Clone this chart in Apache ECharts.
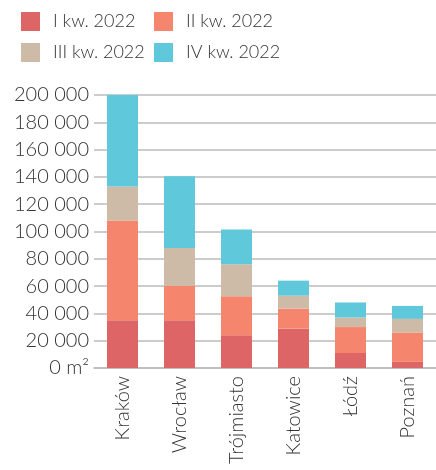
<!DOCTYPE html>
<html>
<head>
<meta charset="utf-8">
<script src="https://cdn.jsdelivr.net/npm/echarts@6/dist/echarts.min.js"></script>
<style>
html,body{margin:0;padding:0;background:#fff;}
#chart{width:436px;height:470px;}
</style>
</head>
<body>
<div id="chart"></div>
<script>
const categories = ['Kraków', 'Wrocław', 'Trójmiasto', 'Katowice', 'Łódź', 'Poznań'];
const seriesNames = ['I kw. 2022', 'II kw. 2022', 'III kw. 2022', 'IV kw. 2022'];
const q1 = [35000, 35000, 24000, 29000, 11000, 4500];
const q2 = [73000, 25000, 28500, 14500, 19000, 21500];
const q3 = [25000, 28000, 23500, 9500, 7000, 10000];
const q4 = [67000, 52500, 25500, 11000, 11000, 9500];
const yTickLabels = ['0 m²', '20 000', '40 000', '60 000', '80 000', '100 000', '120 000', '140 000', '160 000', '180 000', '200 000'];
const colors = ['#DD6566', '#F5856C', '#CEBBA7', '#5FC8DB'];

const FONT = 'Lato';
const TXT = '#333333';
const chart = echarts.init(document.getElementById('chart'), null, {renderer: 'canvas'});
const values = [q1, q2, q3, q4];
chart.setOption({
  animation: false,
  color: colors,
  legend: [
    {
      data: [seriesNames[0], seriesNames[2]],
      orient: 'vertical', left: 16, top: 7,
      itemWidth: 19, itemHeight: 19, itemGap: 12,
      icon: 'rect',
      textStyle: {fontFamily: FONT, fontWeight: 300, fontSize: 18, color: TXT, padding: [0, 0, 0, 8]}
    },
    {
      data: [seriesNames[1], seriesNames[3]],
      orient: 'vertical', left: 149, top: 7,
      itemWidth: 19, itemHeight: 19, itemGap: 12,
      icon: 'rect',
      textStyle: {fontFamily: FONT, fontWeight: 300, fontSize: 18, color: TXT, padding: [0, 0, 0, 8]}
    }
  ],
  grid: {left: 94, top: 95, width: 352, bottom: 102, containLabel: false},
  xAxis: {
    type: 'category',
    data: categories,
    axisLine: {show: true, lineStyle: {color: '#bbbbbb', width: 1.5}},
    axisTick: {show: false},
    axisLabel: {rotate: 90, fontFamily: FONT, fontWeight: 300, fontSize: 20, color: TXT, margin: 8, interval: 0}
  },
  yAxis: {
    type: 'value',
    min: 0, max: 200000, interval: 20000,
    axisLine: {show: false},
    axisTick: {show: false},
    splitLine: {lineStyle: {color: '#bbbbbb', width: 1.5}},
    axisLabel: {
      fontFamily: FONT, fontWeight: 300, fontSize: 20, color: TXT, margin: 5,
      formatter: function (v) { return yTickLabels[Math.round(v / 20000)]; }
    }
  },
  series: seriesNames.map(function (n, i) {
    return {
      name: n, type: 'bar', stack: 'total', barWidth: 31,
      data: values[i],
      itemStyle: {color: colors[i]}
    };
  })
});
</script>
</body>
</html>
